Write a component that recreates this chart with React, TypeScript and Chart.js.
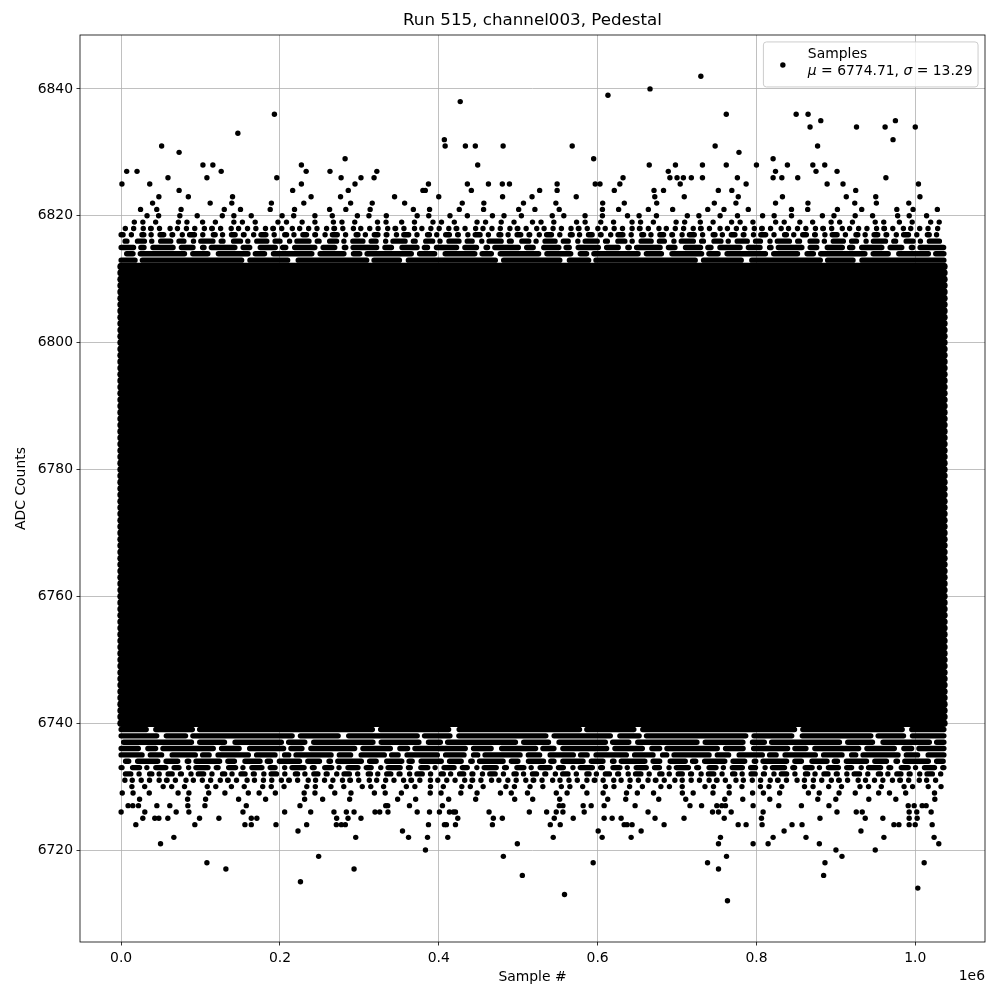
import React, { useEffect, useRef } from "react";
import { Chart, registerables } from "chart.js";

Chart.register(...registerables);

// ---------- text ----------
const chartTitle = "Run 515, channel003, Pedestal";
const xAxisLabel = "Sample #";
const yAxisLabel = "ADC Counts";
const xOffsetLabel = "1e6";
const legendLabel = "Samples";
const legendMu = "6774.71";
const legendSigma = "13.29";

// ---------- axes ----------
const xRange = [-51800, 1087800];
const yRange = [6705.5, 6848.5];
const xTicks = [0, 200000, 400000, 600000, 800000, 1000000];
const xTickLabels = ["0.0", "0.2", "0.4", "0.6", "0.8", "1.0"];
const yTicks = [6720, 6740, 6760, 6780, 6800, 6820, 6840];

// ---------- samples ----------
const firstSample = 0;
const lastSample = 1036000;

// ADC levels occupied along the whole run (solid rows)
const coreLevels = [
  6740, 6741, 6742, 6743, 6744, 6745, 6746, 6747, 6748, 6749,
  6750, 6751, 6752, 6753, 6754, 6755, 6756, 6757, 6758, 6759,
  6760, 6761, 6762, 6763, 6764, 6765, 6766, 6767, 6768, 6769,
  6770, 6771, 6772, 6773, 6774, 6775, 6776, 6777, 6778, 6779,
  6780, 6781, 6782, 6783, 6784, 6785, 6786, 6787, 6788, 6789,
  6790, 6791, 6792, 6793, 6794, 6795, 6796, 6797, 6798, 6799,
  6800, 6801, 6802, 6803, 6804, 6805, 6806, 6807, 6808, 6809,
  6810, 6811, 6812,
];

// fringe levels and the fraction of the run they are populated
const lowFringeLevels = [6728, 6729, 6730, 6731, 6732, 6733, 6734, 6735, 6736, 6737, 6738, 6739];
const lowFringeCoverage = [0.18, 0.3, 0.38, 0.52, 0.66, 0.76, 0.84, 0.88, 0.91, 0.93, 0.95, 0.97];
const highFringeLevels = [6813, 6814, 6815, 6816, 6817, 6818, 6819, 6820, 6821, 6822, 6823];
const highFringeCoverage = [0.95, 0.9, 0.84, 0.76, 0.65, 0.52, 0.38, 0.28, 0.2, 0.15, 0.11];

// isolated high samples, grouped by ADC level
const highOutlierLevels = [6842, 6840, 6839, 6838, 6836, 6835, 6834, 6833, 6832, 6831, 6830, 6829, 6828, 6827, 6826, 6825, 6824];
const highOutlierSamples = [
  [730000],
  [666000],
  [613000],
  [427000],
  [193000, 762000, 850000, 865000],
  [881000, 975000],
  [867500, 926000, 962000, 1000000],
  [147000],
  [407000, 972000],
  [51000, 408000, 433500, 446000, 481000, 568000, 748000, 877000],
  [73000, 778000],
  [282000, 595000, 821000],
  [103000, 115500, 227000, 449000, 665000, 698000, 732000, 762000, 800000, 839000, 871000, 886000],
  [7000, 20000, 126000, 233000, 263000, 322000, 689000, 824000, 875000, 901500],
  [59000, 108000, 196000, 277000, 302000, 318500, 632000, 691000, 700000, 708000, 718000, 732000, 776000, 821000, 832000, 852000, 963000],
  [1000, 36000, 227000, 294500, 387000, 436000, 462500, 480000, 489000, 549000, 597000, 603000, 628000, 704000, 787000, 889000, 909000, 1004000],
  [73000, 216000, 286000, 380000, 383000, 441000, 527000, 549000, 621000, 671000, 683000, 752000, 769000, 925000],
];

// isolated low samples, grouped by ADC level
const lowOutlierLevels = [6727, 6726, 6725, 6724, 6723, 6722, 6721, 6720, 6719, 6718, 6717, 6716, 6715, 6714, 6713, 6712];
const lowOutlierSamples = [
  [8800, 14700, 21800, 45000, 61300, 84000, 105500, 157600, 225200, 333200, 335700, 363100, 404600, 551700, 556300, 581800, 591900, 608200, 647200, 716300, 730900, 750100, 756400, 761000, 795800, 828100, 856600, 891300, 991100, 998600, 1008700, 1013700],
  [0, 29800, 69300, 85300, 153400, 205900, 238700, 268000, 283600, 293300, 319700, 325600, 336000, 372800, 388300, 400800, 413400, 418400, 421000, 463300, 514000, 535800, 547900, 556300, 583100, 663500, 744700, 752200, 768200, 808400, 901400, 925700, 933200, 992300, 1001900, 1020000],
  [27300, 42400, 47500, 58800, 98700, 123100, 163900, 170900, 271400, 285700, 302000, 423900, 468700, 480000, 545400, 569300, 608200, 618300, 629600, 672300, 708800, 759400, 806300, 880000, 937000, 959200, 992300, 1002400],
  [18500, 92800, 155900, 163900, 195000, 233600, 271000, 277300, 282300, 387000, 407100, 409600, 421000, 467500, 540400, 552900, 633400, 637100, 643400, 683700, 777000, 787000, 807100, 844800, 857400, 973100, 979400, 992300, 999900, 1021300],
  [222700, 354300, 600700, 654800, 834800, 931600],
  [66400, 295400, 361900, 385800, 411300, 544100, 605700, 642200, 754700, 821000, 862400, 960500, 1023700],
  [49600, 498900, 752200, 795800, 814700, 879200, 1029600],
  [383200, 900100, 949600],
  [248700, 481300, 762300, 907700],
  [108000, 594400, 738400, 886300, 1011200],
  [131900, 293300, 752200],
  [505200, 884600],
  [225800],
  [1003200],
  [558300],
  [763500],
];

// ---------- styling ----------
const FONT = '"DejaVu Sans", "Liberation Sans", sans-serif';
const FS = 13.9;
const DOT_R = 2.7;
const ROW_W = 2 * DOT_R;
const DASH_ON = [1.0, 0.4, 1.7, 0.7, 1.2, 0.5, 1.5];
const DASH_OFF = [1.3, 0.6, 0.9, 1.6, 0.6, 1.1, 0.9];

function dashFor(f: number): number[] {
  const out: number[] = [];
  if (f < 0.45) {
    const period = ROW_W / f;
    for (let i = 0; i < DASH_ON.length; i++) out.push(0.01, DASH_OFF[i] * period);
  } else {
    const G = ROW_W * 0.6;
    const onMean = (f / (1 - f)) * G;
    for (let i = 0; i < DASH_ON.length; i++) {
      out.push(Math.max(DASH_ON[i] * onMean - ROW_W, 0.01), DASH_OFF[i] * G + ROW_W);
    }
  }
  return out;
}

function rowDataset(level: number, width: number, dash?: number[]) {
  return {
    data: [
      { x: firstSample, y: level },
      { x: lastSample, y: level },
    ],
    borderColor: "#000",
    backgroundColor: "#000",
    borderWidth: width,
    borderCapStyle: "round" as const,
    borderDash: dash || [],
    borderDashOffset: dash ? (level * 53.7) % 97 : 0,
    pointRadius: 0,
    pointHoverRadius: 0,
    fill: false,
    showLine: true,
  };
}

function outlierPoints() {
  const pts: { x: number; y: number }[] = [];
  highOutlierLevels.forEach((lv, i) => highOutlierSamples[i].forEach((s) => pts.push({ x: s, y: lv })));
  lowOutlierLevels.forEach((lv, i) => lowOutlierSamples[i].forEach((s) => pts.push({ x: s, y: lv })));
  return pts;
}

const decorPlugin = {
  id: "decor",
  afterDraw(chart: any) {
    const { ctx, chartArea } = chart;
    const { left, right, top, bottom } = chartArea;
    ctx.save();
    // frame
    ctx.strokeStyle = "#000";
    ctx.lineWidth = 0.8;
    ctx.strokeRect(left, top, right - left, bottom - top);
    // title
    ctx.fillStyle = "#000";
    ctx.textBaseline = "middle";
    ctx.textAlign = "center";
    ctx.font = `16.7px ${FONT}`;
    ctx.fillText(chartTitle, (left + right) / 2, 21);
    // offset text
    ctx.font = `${FS}px ${FONT}`;
    ctx.textAlign = "right";
    ctx.fillText(xOffsetLabel, right, 976);

    // legend
    ctx.textAlign = "left";
    const normal = `${FS}px ${FONT}`;
    const italic = `italic ${FS}px ${FONT}`;
    const parts: [string, string][] = [
      ["\u03bc", italic],
      [` = ${legendMu}, `, normal],
      ["\u03c3", italic],
      [` = ${legendSigma}`, normal],
    ];
    let w2 = 0;
    parts.forEach(([t, f]) => {
      ctx.font = f;
      w2 += ctx.measureText(t).width;
    });
    ctx.font = normal;
    const w1 = ctx.measureText(legendLabel).width;
    const textW = Math.max(w1, w2);
    const boxRight = right - 0.5 * FS;
    const boxTop = top + 0.5 * FS;
    const textLeft = boxRight - 0.4 * FS - textW;
    const boxLeft = textLeft - 3.2 * FS;
    const boxBottom = boxTop + 45;
    const r = 3;
    ctx.beginPath();
    ctx.moveTo(boxLeft + r, boxTop);
    ctx.lineTo(boxRight - r, boxTop);
    ctx.quadraticCurveTo(boxRight, boxTop, boxRight, boxTop + r);
    ctx.lineTo(boxRight, boxBottom - r);
    ctx.quadraticCurveTo(boxRight, boxBottom, boxRight - r, boxBottom);
    ctx.lineTo(boxLeft + r, boxBottom);
    ctx.quadraticCurveTo(boxLeft, boxBottom, boxLeft, boxBottom - r);
    ctx.lineTo(boxLeft, boxTop + r);
    ctx.quadraticCurveTo(boxLeft, boxTop, boxLeft + r, boxTop);
    ctx.closePath();
    ctx.fillStyle = "rgba(255,255,255,0.8)";
    ctx.fill();
    ctx.strokeStyle = "#cccccc";
    ctx.lineWidth = 1;
    ctx.stroke();
    // marker
    ctx.fillStyle = "#000";
    ctx.beginPath();
    ctx.arc(textLeft - 1.8 * FS, boxTop + 23, DOT_R, 0, Math.PI * 2);
    ctx.fill();
    // text
    ctx.font = normal;
    ctx.fillText(legendLabel, textLeft, boxTop + 12);
    let x = textLeft;
    parts.forEach(([t, f]) => {
      ctx.font = f;
      ctx.fillText(t, x, boxTop + 29);
      x += ctx.measureText(t).width;
    });
    ctx.restore();
  },
};

export default function App() {
  const ref = useRef<HTMLCanvasElement | null>(null);

  useEffect(() => {
    const canvas = ref.current;
    if (!canvas) return;

    const datasets: any[] = [];
    coreLevels.forEach((lv) => datasets.push(rowDataset(lv, 7.6)));
    lowFringeLevels.forEach((lv, i) => datasets.push(rowDataset(lv, ROW_W, dashFor(lowFringeCoverage[i]))));
    highFringeLevels.forEach((lv, i) => datasets.push(rowDataset(lv, ROW_W, dashFor(highFringeCoverage[i]))));
    datasets.push({
      label: legendLabel,
      data: outlierPoints(),
      showLine: false,
      pointRadius: DOT_R,
      pointHoverRadius: DOT_R,
      pointBackgroundColor: "#000",
      pointBorderWidth: 0,
      borderColor: "#000",
      backgroundColor: "#000",
    });

    const tickFont = { family: FONT, size: FS };
    const chart = new Chart(canvas, {
      type: "line",
      data: { datasets },
      options: {
        responsive: false,
        animation: false,
        devicePixelRatio: 1,
        events: [],
        layout: { padding: { top: 35, right: 15, bottom: 0, left: 0 } },
        plugins: {
          legend: { display: false },
          tooltip: { enabled: false },
          title: { display: false },
        },
        scales: {
          x: {
            type: "linear",
            min: xRange[0],
            max: xRange[1],
            afterBuildTicks: (s: any) => {
              s.ticks = xTicks.map((v) => ({ value: v }));
            },
            afterFit: (s: any) => {
              s.height = 58;
            },
            ticks: {
              autoSkip: false,
              maxRotation: 0,
              padding: 4.5,
              color: "#000",
              font: tickFont,
              callback: (v: any) => {
                const i = xTicks.indexOf(Number(v));
                return i >= 0 ? xTickLabels[i] : "";
              },
            },
            grid: {
              color: "#b0b0b0",
              lineWidth: 0.8,
              tickColor: "#000",
              tickLength: 3.5,
              tickWidth: 0.8,
            },
            border: { display: false },
            title: {
              display: true,
              text: xAxisLabel,
              color: "#000",
              font: tickFont,
              padding: { top: 0, bottom: 14 },
            },
          },
          y: {
            type: "linear",
            min: yRange[0],
            max: yRange[1],
            afterBuildTicks: (s: any) => {
              s.ticks = yTicks.map((v) => ({ value: v }));
            },
            afterFit: (s: any) => {
              s.width = 80;
            },
            ticks: {
              autoSkip: false,
              padding: 3.5,
              color: "#000",
              font: tickFont,
              callback: (v: any) => String(v),
            },
            grid: {
              color: "#b0b0b0",
              lineWidth: 0.8,
              tickColor: "#000",
              tickLength: 3.5,
              tickWidth: 0.8,
            },
            border: { display: false },
            title: {
              display: true,
              text: yAxisLabel,
              color: "#000",
              font: tickFont,
              padding: { top: 12.7, bottom: 0 },
            },
          },
        },
      } as any,
      plugins: [decorPlugin],
    });

    return () => chart.destroy();
  }, []);

  return (
    <div style={{ position: "absolute", left: 0, top: 0, width: 1000, height: 1000, background: "#fff" }}>
      <canvas ref={ref} width={1000} height={1000} style={{ display: "block", width: 1000, height: 1000 }} />
    </div>
  );
}
